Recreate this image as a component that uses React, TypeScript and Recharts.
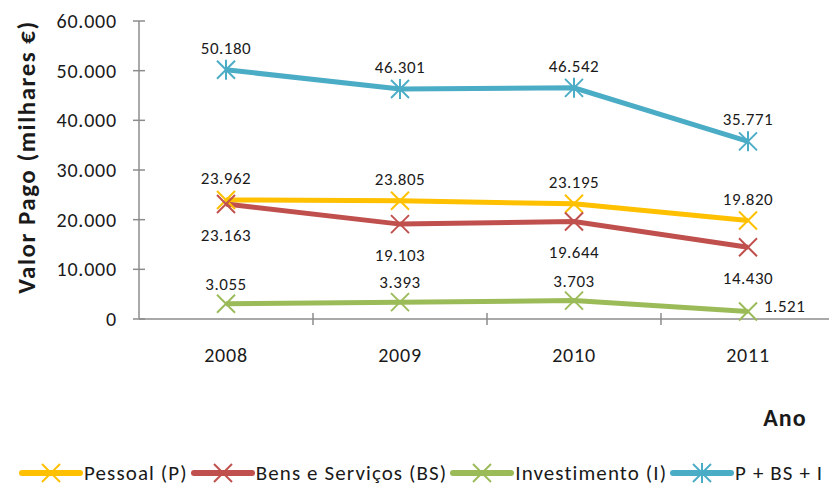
import React from 'react';
import { LineChart, Line, XAxis, YAxis, Legend, LabelList } from 'recharts';

const years = ['2008', '2009', '2010', '2011'];
const pessoal = [23962, 23805, 23195, 19820];
const bensServicos = [23163, 19103, 19644, 14430];
const investimento = [3055, 3393, 3703, 1521];
const total = [50180, 46301, 46542, 35771];
const yTicks = [0, 10000, 20000, 30000, 40000, 50000, 60000];

const data = years.map((ano, i) => ({
  ano,
  p: pessoal[i],
  bs: bensServicos[i],
  inv: investimento[i],
  tot: total[i],
}));

const FONT = 'Carlito, Calibri, Lato, sans-serif';
const AXIS = '#8c8c8c';
const TEXT = '#1a1a1a';

const series = [
  { key: 'p', name: 'Pessoal (P)', color: '#FFC000', star: false, place: 'above' },
  { key: 'bs', name: 'Bens e Serviços (BS)', color: '#C0504D', star: false, place: 'below' },
  { key: 'inv', name: 'Investimento (I)', color: '#9BBB59', star: false, place: 'aboveLastRight' },
  { key: 'tot', name: 'P + BS + I', color: '#4BACC6', star: true, place: 'above' },
];

const fmt = (v: number) => v.toString().replace(/\B(?=(\d{3})+(?!\d))/g, '.');

const Marker = ({ cx, cy, color, star }: any) => (
  <g stroke={color} strokeWidth={2}>
    <line x1={cx - 9} y1={cy - 9} x2={cx + 9} y2={cy + 9} />
    <line x1={cx - 9} y1={cy + 9} x2={cx + 9} y2={cy - 9} />
    {star && <line x1={cx} y1={cy - 10} x2={cx} y2={cy + 10} />}
  </g>
);

const makeLabel = (key: string, place: string) => (props: any) => {
  const { x, y, value, index } = props;
  let tx = x;
  let ty = y - 22;
  let anchor = 'middle';
  if (place === 'below') ty = y + 31;
  if (place === 'aboveLastRight') ty = y - 20;
  if (place === 'aboveLastRight' && index === 3) {
    tx = x + 16;
    ty = y - 5;
    anchor = 'start';
  }
  return (
    <text
      key={`${key}-lbl-${index}`}
      x={tx}
      y={ty}
      dy="0.35em"
      textAnchor={anchor}
      fontSize={17}
      letterSpacing={0.5}
      fontFamily={FONT}
      fill={TEXT}
    >
      {fmt(value)}
    </text>
  );
};

const YTick = ({ x, y, payload }: any) => (
  <g>
    <line x1={x - 6} x2={x + 6} y1={y} y2={y} stroke={AXIS} strokeWidth={1.5} />
    <text
      x={x - 22}
      y={y}
      dy="0.35em"
      textAnchor="end"
      fontSize={20}
      letterSpacing={0.8}
      fontFamily={FONT}
      fill={TEXT}
    >
      {fmt(payload.value)}
    </text>
  </g>
);

const XTick = ({ x, y, payload }: any) => (
  <g>
    <line x1={x + 87} x2={x + 87} y1={y - 6} y2={y + 6} stroke={AXIS} strokeWidth={1.5} />
    <text
      x={x}
      y={y + 36}
      dy="0.35em"
      textAnchor="middle"
      fontSize={20}
      letterSpacing={0.8}
      fontFamily={FONT}
      fill={TEXT}
    >
      {payload.value}
    </text>
  </g>
);

const renderLegend = () => (
  <div
    style={{
      display: 'flex',
      alignItems: 'center',
      height: 30,
      paddingLeft: 19,
      fontFamily: FONT,
      fontSize: 21,
      letterSpacing: 1.1,
      color: TEXT,
      whiteSpace: 'nowrap',
    }}
  >
    {series.map((s) => (
      <div key={s.key} style={{ display: 'flex', alignItems: 'center', marginRight: 3 }}>
        <svg width={64} height={22} style={{ display: 'block' }}>
          <line x1={3} y1={11} x2={61} y2={11} stroke={s.color} strokeWidth={6} strokeLinecap="round" />
          <Marker cx={32} cy={11} color={s.color} star={s.star} />
        </svg>
        <span style={{ marginLeft: 1 }}>{s.name}</span>
      </div>
    ))}
  </div>
);

export default function App() {
  return (
    <div
      style={{
        position: 'absolute',
        left: 0,
        top: 0,
        width: 829,
        height: 488,
        overflow: 'hidden',
        background: '#fff',
      }}
    >
      <LineChart width={836} height={488} data={data} margin={{ top: 21, right: 1, left: 0, bottom: 0 }}>
        <XAxis
          dataKey="ano"
          height={139}
          padding={{ left: 87, right: 87 }}
          tickSize={0}
          tickMargin={0}
          tickLine={false}
          interval={0}
          axisLine={{ stroke: AXIS, strokeWidth: 1.5 }}
          tick={XTick}
          label={{
            content: ({ viewBox }: any) => (
              <text
                x={viewBox.x + viewBox.width - 50}
                y={viewBox.y + 99}
                dy="0.35em"
                textAnchor="middle"
                fontSize={24}
                letterSpacing={1}
                fontWeight="bold"
                fontFamily={FONT}
                fill={TEXT}
              >
                Ano
              </text>
            ),
          }}
        />
        <YAxis
          domain={[0, 60000]}
          ticks={yTicks}
          width={139}
          tickSize={0}
          tickMargin={0}
          tickLine={false}
          interval={0}
          axisLine={{ stroke: AXIS, strokeWidth: 1.5 }}
          tick={YTick}
          label={{
            content: ({ viewBox }: any) => {
              const cx = viewBox.x + 26;
              const cy = viewBox.y + 136;
              return (
                <text
                  x={cx}
                  y={cy}
                  dy="0.35em"
                  textAnchor="middle"
                  transform={`rotate(-90 ${cx} ${cy})`}
                  fontSize={25}
                  letterSpacing={1.5}
                  fontWeight="bold"
                  fontFamily={FONT}
                  fill={TEXT}
                >
                  Valor Pago (milhares €)
                </text>
              );
            },
          }}
        />
        <Legend verticalAlign="bottom" align="left" height={30} content={renderLegend} />
        {series.map((s) => (
          <Line
            key={s.key}
            type="linear"
            dataKey={s.key}
            name={s.name}
            stroke={s.color}
            strokeWidth={5}
            isAnimationActive={false}
            dot={(props: any) => (
              <Marker key={`${s.key}-dot-${props.index}`} cx={props.cx} cy={props.cy} color={s.color} star={s.star} />
            )}
            activeDot={false}
          >
            <LabelList dataKey={s.key} content={makeLabel(s.key, s.place)} />
          </Line>
        ))}
      </LineChart>
    </div>
  );
}
